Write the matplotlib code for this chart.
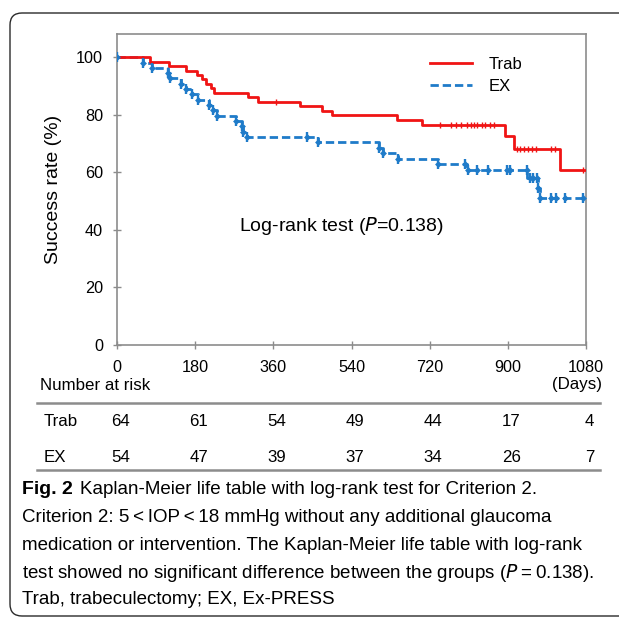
import numpy as np
import matplotlib
matplotlib.use("Agg")
import matplotlib.pyplot as plt
from matplotlib import font_manager
from matplotlib.path import Path
from matplotlib.patches import PathPatch
import matplotlib.transforms as mtransforms

# ---------------- data ----------------
trab_days = [0, 76, 120, 159, 184, 196, 206, 216, 223, 302, 325, 421, 472, 495, 644, 702, 893, 914, 1020]
trab_surv = [100, 98.4, 96.9, 95.3, 93.8, 92.2, 90.6, 89.1, 87.6, 86.0, 84.5, 83.0, 81.4, 79.7, 78.0, 76.3, 72.5, 68.2, 60.7]
trab_censor = [366, 744, 770, 780, 793, 805, 815, 822, 830, 840, 848, 858, 868,
               920, 928, 937, 946, 955, 964, 1000, 1008, 1073]

ex_days = [0, 61, 80, 118, 121, 147, 160, 172, 187, 213, 222, 230, 274, 287, 290, 299,
           462, 604, 613, 646, 740, 806, 945, 970, 973]
ex_surv = [100, 98.1, 96.3, 94.4, 92.6, 90.7, 88.9, 87.0, 85.2, 83.3, 81.5, 79.6, 77.8, 75.9,
           74.1, 72.2, 70.4, 68.5, 66.6, 64.7, 62.9, 60.8, 58.0, 54.6, 51.2]
ex_censor = [0, 61, 80, 118, 121, 147, 160, 172, 187, 213, 222, 230, 274, 287, 290, 299,
             437, 462, 604, 613, 646, 740, 801, 809, 828, 855, 897, 905, 943, 951, 959,
             968, 970, 974, 1000, 1012, 1031, 1074]

x_ticks = [0, 180, 360, 540, 720, 900, 1080]
y_ticks = [0, 20, 40, 60, 80, 100]
risk_groups = ["Trab", "EX"]
risk_trab = [64, 61, 54, 49, 44, 17, 4]
risk_ex = [54, 47, 39, 37, 34, 26, 7]

caption_lines = [
    "Kaplan-Meier life table with log-rank test for Criterion 2.",
    "Criterion 2: 5\u2009<\u2009IOP\u2009<\u200918 mmHg without any additional glaucoma",
    "medication or intervention. The Kaplan-Meier life table with log-rank",
    "test showed no significant difference between the groups (",
    "Trab, trabeculectomy; EX, Ex-PRESS",
]

# ---------------- fonts ----------------
avail = {f.name for f in font_manager.fontManager.ttflist}
main_font = "Liberation Sans" if "Liberation Sans" in avail else "DejaVu Sans"
cap_font = "Liberation Sans Narrow" if "Liberation Sans Narrow" in avail else main_font
plt.rcParams["font.family"] = [main_font, "DejaVu Sans"]

W, H = 619, 617
fig = plt.figure(figsize=(W / 100, H / 100), dpi=100)

def fx(x):
    return x / W

def fy(y):
    return 1 - y / H

# outer rounded border (open to the right)
r = 12
L, T, B, R = 10, 13, 616, 700
verts = [(R, T), (L + r, T), (L, T), (L, T + r), (L, B - r), (L, B), (L + r, B), (R, B)]
codes = [Path.MOVETO, Path.LINETO, Path.CURVE3, Path.CURVE3, Path.LINETO,
         Path.CURVE3, Path.CURVE3, Path.LINETO]
verts = [(fx(a), fy(b)) for a, b in verts]
fig.patches.append(PathPatch(Path(verts, codes), transform=fig.transFigure, fill=False,
                             edgecolor="#2a2a2a", linewidth=1.0))

ax = fig.add_axes([fx(117), fy(345), fx(586) - fx(117), fy(34) - fy(345)])
ax.set_xlim(0, 1080)
ax.set_ylim(0, 108)
for s in ax.spines.values():
    s.set_color("#8c8c8c")
    s.set_linewidth(1.2)
ax.set_xticks(x_ticks)
ax.set_yticks(y_ticks)
ax.tick_params(axis="both", direction="inout", length=6, width=1, color="#8c8c8c",
               labelsize=11.7, pad=7)
ax.tick_params(axis="x", pad=8)

red = "#f01414"
blue = "#1f7bc9"

td = trab_days + [1080]
ts = trab_surv + [trab_surv[-1]]
ax.step(td, ts, where="post", color=red, lw=2.0, label="Trab", zorder=3)
ed = ex_days + [1080]
es = ex_surv + [ex_surv[-1]]
ax.step(ed, es, where="post", color=blue, lw=2.0, ls=(0, (3, 1.4)), label="EX", zorder=2)

def surv_at(days, surv, t):
    i = np.searchsorted(np.array(days), t, side="right") - 1
    return np.array(surv)[i]

tc = np.array(trab_censor)
ax.plot(tc, surv_at(trab_days, trab_surv, tc), ls="none", marker="|", ms=5, mew=1.0,
        color=red, zorder=4)
ec = np.array(ex_censor)
ev = surv_at(ex_days, ex_surv, ec)
ax.plot(ec, ev, ls="none", marker="|", ms=6.5, mew=1.7, color=blue, zorder=4)
ax.plot(ec, ev, ls="none", marker="D", ms=3.5, mew=0, color=blue, zorder=4)

leg = ax.legend(loc="upper left", bbox_to_anchor=(fx(430), fy(57)),
                bbox_transform=fig.transFigure, frameon=False, fontsize=12,
                handlelength=2.5, handletextpad=1.0, labelspacing=0.42,
                borderpad=0, borderaxespad=0)

ax.set_ylabel("Success rate (%)", fontsize=14, labelpad=10)

fig.text(fx(341), fy(226), "Log-rank test ($\\it{P}$=0.138)",
         ha="center", va="center", fontsize=14)

# number at risk table
tfs = 12.2
fig.text(fx(40), fy(385), "Number at risk", ha="left", va="center", fontsize=tfs)
fig.text(fx(602), fy(385), "(Days)", ha="right", va="center", fontsize=tfs)
fig.add_artist(plt.Line2D([fx(37), fx(600)], [fy(403), fy(403)], color="#8c8c8c",
                          lw=1.8, transform=fig.transFigure))
fig.add_artist(plt.Line2D([fx(37), fx(600)], [fy(470), fy(470)], color="#8c8c8c",
                          lw=1.8, transform=fig.transFigure))
bt = mtransforms.blended_transform_factory(ax.transData, fig.transFigure)
for g, row, yy in zip(risk_groups, [risk_trab, risk_ex], [421, 457]):
    fig.text(fx(44), fy(yy), g, ha="left", va="center", fontsize=tfs)
    for xv, n in zip(x_ticks, row):
        fig.text(xv + 8, fy(yy), str(n), ha="center", va="center", fontsize=tfs,
                 transform=bt)

# caption
cfs = 13.5
ys = [490, 518, 546, 573, 600]
t0 = fig.text(fx(22), fy(ys[0]), "Fig. 2", ha="left", va="center", fontsize=cfs + 0.5,
              fontweight="bold", family=[cap_font, "DejaVu Sans"])
fig.canvas.draw()
rend = fig.canvas.get_renderer()
bb = t0.get_window_extent(rend)
fig.text(bb.x1 / W + fx(7), fy(ys[0]), caption_lines[0], ha="left", va="center",
         fontsize=cfs, family=[cap_font, "DejaVu Sans"])
for line, yy in zip(caption_lines[1:3], ys[1:3]):
    fig.text(fx(22), fy(yy), line, ha="left", va="center", fontsize=cfs,
             family=[cap_font, "DejaVu Sans"])
fig.text(fx(22), fy(ys[3]), caption_lines[3] + "$\\it{P}$\u2009=\u20090.138).",
         ha="left", va="center", fontsize=cfs, family=[cap_font, "DejaVu Sans"])
fig.text(fx(22), fy(ys[4]), caption_lines[4], ha="left", va="center", fontsize=cfs,
         family=[cap_font, "DejaVu Sans"])

fig.savefig("out.png", dpi=100)
